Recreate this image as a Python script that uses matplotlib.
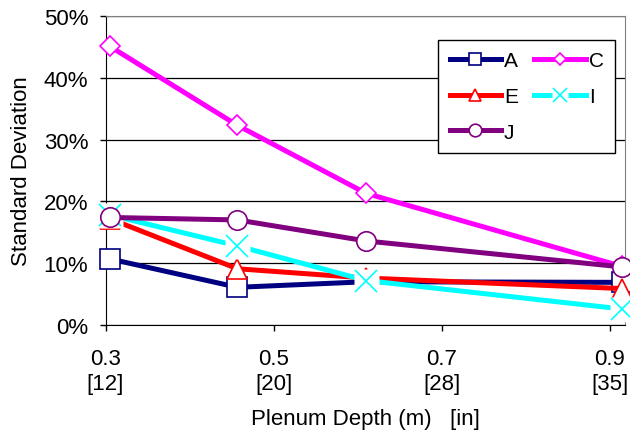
import matplotlib
matplotlib.use('Agg')
import matplotlib.pyplot as plt
from matplotlib.ticker import FuncFormatter

plt.rcParams['font.family'] = ['Liberation Sans', 'DejaVu Sans']

# plenum depth (m), 12/18/24/36 in
depth = [0.305, 0.457, 0.610, 0.914]
A = [10.7, 6.1, 7.0, 6.9]
C = [45.1, 32.3, 21.3, 9.5]
E = [17.2, 9.1, 7.6, 5.9]
I = [17.8, 12.8, 7.2, 2.6]
J = [17.4, 17.0, 13.6, 9.4]

xticks = [0.3, 0.5, 0.7, 0.9]
xticklabels = ['0.3\n[12]', '0.5\n[20]', '0.7\n[28]', '0.9\n[35]']

fig = plt.figure(figsize=(6.3, 4.31), dpi=100)
ax = fig.add_axes([0.1675, 0.2436, 0.8245, 0.717])

lw = 3.6
hA, = ax.plot(depth, A, color='#000080', lw=lw, marker='s', ms=14, mfc='white',
              mec='#000080', mew=1.2, clip_on=False, zorder=3)
hC, = ax.plot(depth, C, color='#FF00FF', lw=lw, marker='D', ms=10, mfc='white',
              mec='#FF00FF', mew=1.2, clip_on=False, zorder=4)
hE, = ax.plot(depth, E, color='#FF0000', lw=lw, marker='^', ms=14, mfc='white',
              mec='#FF0000', mew=1.2, clip_on=False, zorder=5)
# the X markers sit on a white square in the original
hI1, = ax.plot(depth, I, color='#00FFFF', lw=lw, clip_on=False, zorder=6)
hI2, = ax.plot(depth, I, ls='none', marker='s', ms=18, mfc='white', mec='none',
               clip_on=False, zorder=6.1)
hI3, = ax.plot(depth, I, ls='none', marker='x', ms=16, mec='#00FFFF', mew=1.2,
               clip_on=False, zorder=6.2)
hJ, = ax.plot(depth, J, color='#800080', lw=lw, marker='o', ms=14, mfc='white',
              mec='#800080', mew=1.2, clip_on=False, zorder=7)

ax.set_xlim(0.3, 0.918)
ax.set_ylim(0, 50)
ax.set_yticks([0, 10, 20, 30, 40, 50])
ax.yaxis.set_major_formatter(FuncFormatter(lambda v, p: '%d%%' % v))
ax.set_xticks(xticks)
ax.set_xticklabels(xticklabels, linespacing=1.25)
ax.tick_params(axis='both', direction='out', length=4.5, width=1, labelsize=16)
ax.tick_params(axis='x', pad=12)
ax.tick_params(axis='y', pad=8)

ax.grid(axis='y', color='black', lw=0.9)
ax.set_axisbelow(True)
for s in ['top', 'right']:
    ax.spines[s].set_color('#808080')
for s in ['left', 'bottom']:
    ax.spines[s].set_color('black')

ax.set_ylabel('Standard Deviation', fontsize=16, labelpad=8)
ax.set_xlabel('Plenum Depth (m)   [in]', fontsize=16, labelpad=10)

leg = ax.legend([hA, hE, hJ, hC, (hI1, hI2, hI3)], ['A', 'E', 'J', 'C', 'I'],
                ncol=2, loc='upper right', bbox_to_anchor=(0.981, 0.923),
                borderaxespad=0, fontsize=15, markerscale=0.65, handlelength=2.45,
                handletextpad=0.15, columnspacing=0.8, labelspacing=0.8, borderpad=0.55,
                fancybox=False, framealpha=1, edgecolor='black')
leg.get_frame().set_linewidth(1.0)

fig.savefig('out.png', dpi=100)
